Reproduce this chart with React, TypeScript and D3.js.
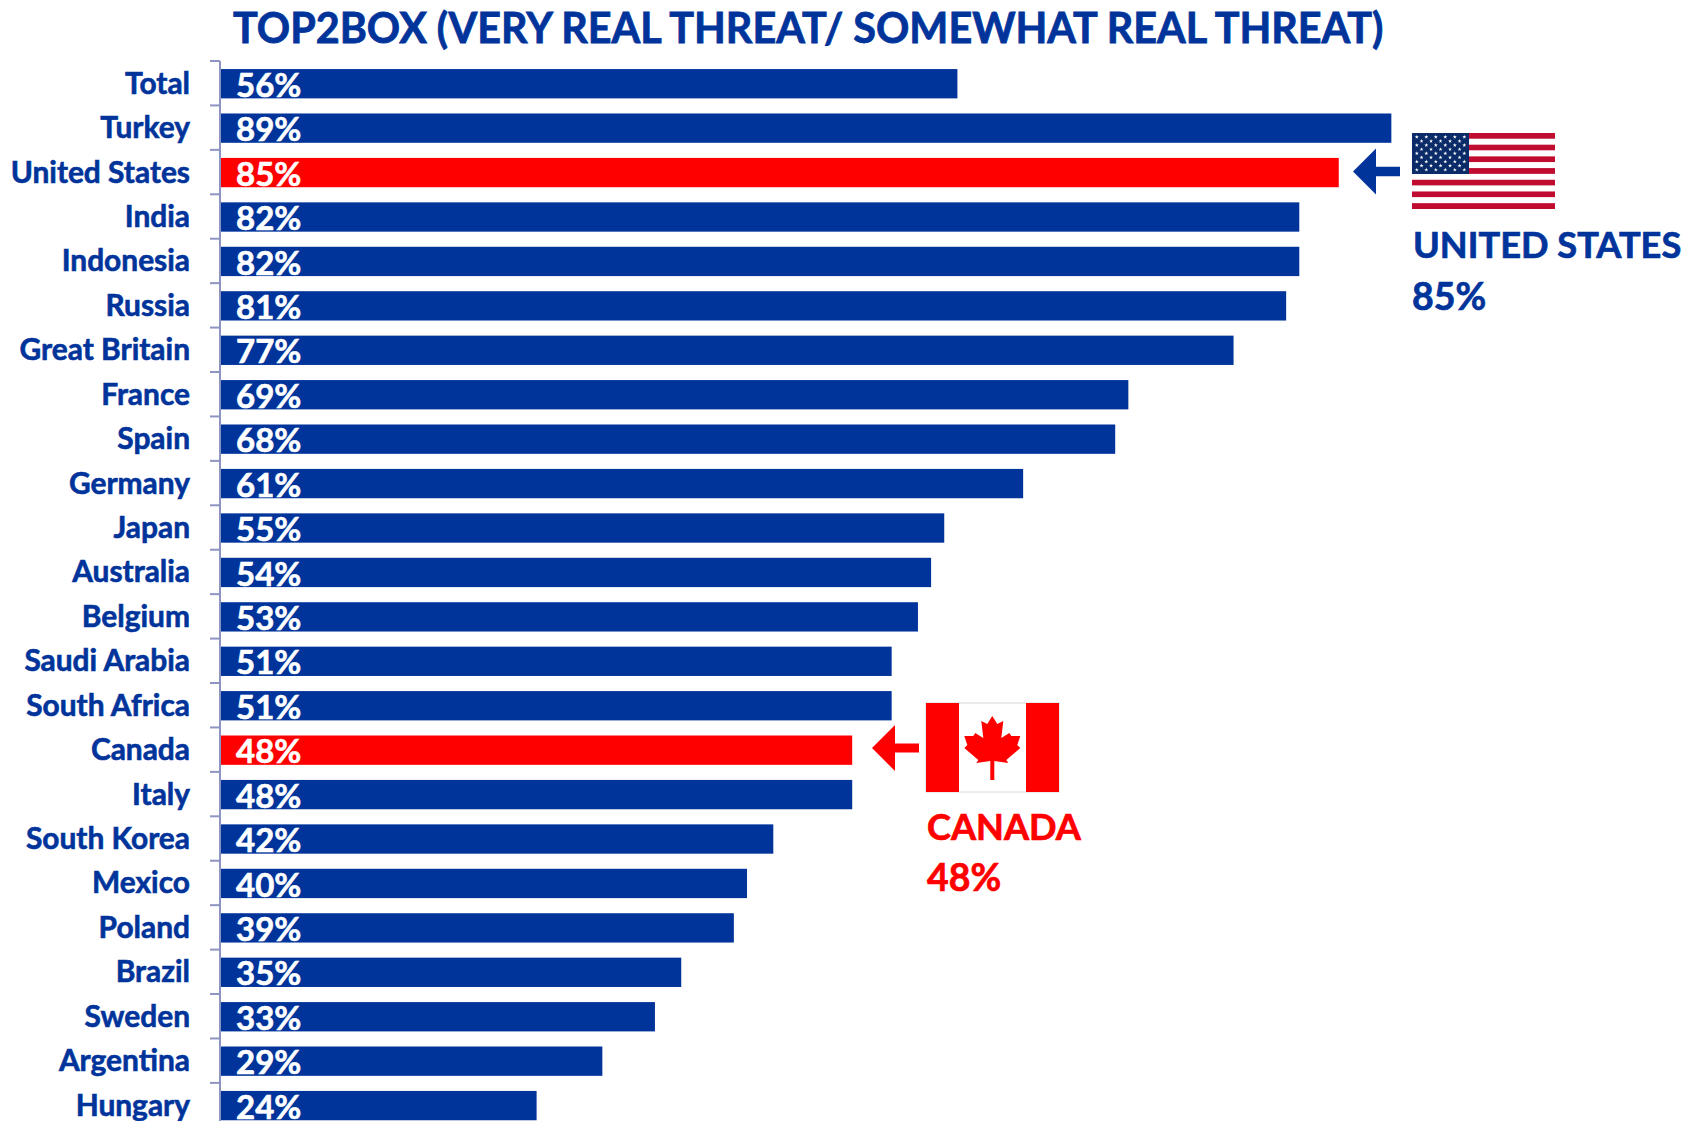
import React, { useEffect, useRef } from 'react';
import * as d3 from 'd3';

const countries = ['Total', 'Turkey', 'United States', 'India', 'Indonesia', 'Russia', 'Great Britain', 'France', 'Spain', 'Germany', 'Japan', 'Australia', 'Belgium', 'Saudi Arabia', 'South Africa', 'Canada', 'Italy', 'South Korea', 'Mexico', 'Poland', 'Brazil', 'Sweden', 'Argentina', 'Hungary'];
const shares = [56, 89, 85, 82, 82, 81, 77, 69, 68, 61, 55, 54, 53, 51, 51, 48, 48, 42, 40, 39, 35, 33, 29, 24];
const highlighted = ['United States', 'Canada'];

const BLUE = '#00349b';
const RED = '#ff0000';
const FONT = 'Lato, Carlito, sans-serif';

const leaf = 'M0,-32 L5,-24 L11,-27 L9,-10 L17,-15 L19,-12 L28,-12 L25,-3 L28,0 L14,12 L16,15 L2,13 L2,32 L-2,32 L-2,13 L-16,15 L-14,12 L-28,0 L-25,-3 L-28,-12 L-19,-12 L-17,-15 L-9,-10 L-11,-27 L-5,-24 Z';

const App: React.FC = () => {
    const svgRef = useRef<SVGSVGElement>(null);

    useEffect(() => {
        if (!svgRef.current) return;

        const svg = d3.select(svgRef.current);
        svg.selectAll('*').remove();

        const x = d3.scaleLinear().domain([0, 100]).range([221, 1536]);
        const y = d3.scaleBand<string>().domain(countries).range([61.5, 61.5 + 24 * 44.43]).paddingInner(0.34).paddingOuter(0.17);

        // Title
        svg.append('text')
            .attr('x', 233)
            .attr('y', 43)
            .attr('font-size', 41.3)
            .attr('font-weight', 700)
            .attr('fill', BLUE)
            .attr('stroke', BLUE)
            .attr('stroke-width', 0.8)
            .text('TOP2BOX (VERY REAL THREAT/ SOMEWHAT REAL THREAT)');

        // Bars
        svg.append('g')
            .selectAll('rect')
            .data(countries)
            .join('rect')
            .attr('x', x(0))
            .attr('y', d => y(d)!)
            .attr('width', (d, i) => x(shares[i]) - x(0))
            .attr('height', y.bandwidth())
            .attr('fill', d => (highlighted.includes(d) ? RED : BLUE));

        // Value labels
        svg.append('g')
            .selectAll('text')
            .data(countries)
            .join('text')
            .attr('x', x(0) + 15)
            .attr('y', d => y(d)! + y.bandwidth() - 1.5)
            .attr('font-size', 33)
            .attr('font-weight', 700)
            .attr('fill', '#fff')
            .attr('stroke', '#fff')
            .attr('stroke-width', 0.6)
            .text((d, i) => `${shares[i]}%`);

        // Axis
        const step = y.step();
        const axis = svg.append('g').attr('stroke', '#8e94c2').attr('stroke-width', 2);
        axis.append('line').attr('x1', 220).attr('x2', 220).attr('y1', 61).attr('y2', 1121);
        axis.selectAll('.tick')
            .data(countries)
            .join('line')
            .attr('class', 'tick')
            .attr('x1', 210)
            .attr('x2', 220)
            .attr('y1', (d, i) => 61 + i * step)
            .attr('y2', (d, i) => 61 + i * step);

        svg.append('g')
            .selectAll('text')
            .data(countries)
            .join('text')
            .attr('x', 190)
            .attr('y', d => y(d)! + y.bandwidth() / 2 + 10)
            .attr('text-anchor', 'end')
            .attr('font-size', 29.9)
            .attr('font-weight', 700)
            .attr('fill', BLUE)
            .attr('stroke', BLUE)
            .attr('stroke-width', 0.6)
            .text(d => d);

        // US flag
        const us = svg.append('g');
        const stripes = d3.scaleBand<number>().domain(d3.range(13)).range([133, 209]);
        us.selectAll('rect')
            .data(d3.range(13))
            .join('rect')
            .attr('x', 1412)
            .attr('y', d => stripes(d)!)
            .attr('width', 143)
            .attr('height', stripes.bandwidth())
            .attr('fill', d => (d % 2 === 0 ? '#c00c30' : '#fff'));
        us.append('rect').attr('x', 1412).attr('y', 133).attr('width', 57).attr('height', 41).attr('fill', '#0a2a68');
        const starPath = d3.symbol().type(d3.symbolStar).size(5)();
        const stars: [number, number][] = [];
        for (let r = 0; r < 9; r++) {
            const n = r % 2 === 0 ? 6 : 5;
            for (let c = 0; c < n; c++) {
                stars.push([1412 + 4.8 + c * 9.5 + (r % 2 === 0 ? 0 : 4.75), 133 + 4 + r * 4.1]);
            }
        }
        us.append('g')
            .selectAll('path')
            .data(stars)
            .join('path')
            .attr('d', starPath)
            .attr('transform', d => `translate(${d[0]},${d[1]})`)
            .attr('fill', '#fff');

        // Canada flag
        const ca = svg.append('g');
        ca.append('rect').attr('x', 926).attr('y', 703).attr('width', 133).attr('height', 89).attr('fill', '#fff').attr('stroke', '#d8d8d8');
        ca.append('rect').attr('x', 926).attr('y', 703).attr('width', 33).attr('height', 89).attr('fill', RED);
        ca.append('rect').attr('x', 1026).attr('y', 703).attr('width', 33).attr('height', 89).attr('fill', RED);
        ca.append('path').attr('d', leaf).attr('transform', 'translate(992.3,748)').attr('fill', RED);

        // Arrows
        const arrow = d3.line();
        const arrowAt = (tip: number, neck: number, end: number, cy: number, half: number, shaft: number, color: string) => {
            svg.append('path')
                .attr('d', arrow([[tip, cy], [neck, cy - half], [neck, cy - shaft], [end, cy - shaft], [end, cy + shaft], [neck, cy + shaft], [neck, cy + half]])! + 'Z')
                .attr('fill', color);
        };
        arrowAt(1353, 1376, 1400, 171.5, 23, 4.7, BLUE);
        arrowAt(872, 895, 919, 748, 23, 4.5, RED);

        // Callouts
        const callout = (text: string, px: number, py: number, size: number, color: string) => {
            svg.append('text')
                .attr('x', px)
                .attr('y', py)
                .attr('font-size', size)
                .attr('font-weight', 700)
                .attr('fill', color)
                .attr('stroke', color)
                .attr('stroke-width', 0.7)
                .text(text);
        };
        callout('UNITED STATES', 1413, 258, 36.2, BLUE);
        callout('85%', 1412, 310, 37.5, BLUE);
        callout('CANADA', 927, 840, 36.2, RED);
        callout('48%', 927, 891, 37.5, RED);
    }, []);

    return (
        <svg
            ref={svgRef}
            width={1698}
            height={1121}
            style={{ position: 'absolute', left: 0, top: 0, fontFamily: FONT, background: '#fff' }}
        />
    );
};

export default App;
